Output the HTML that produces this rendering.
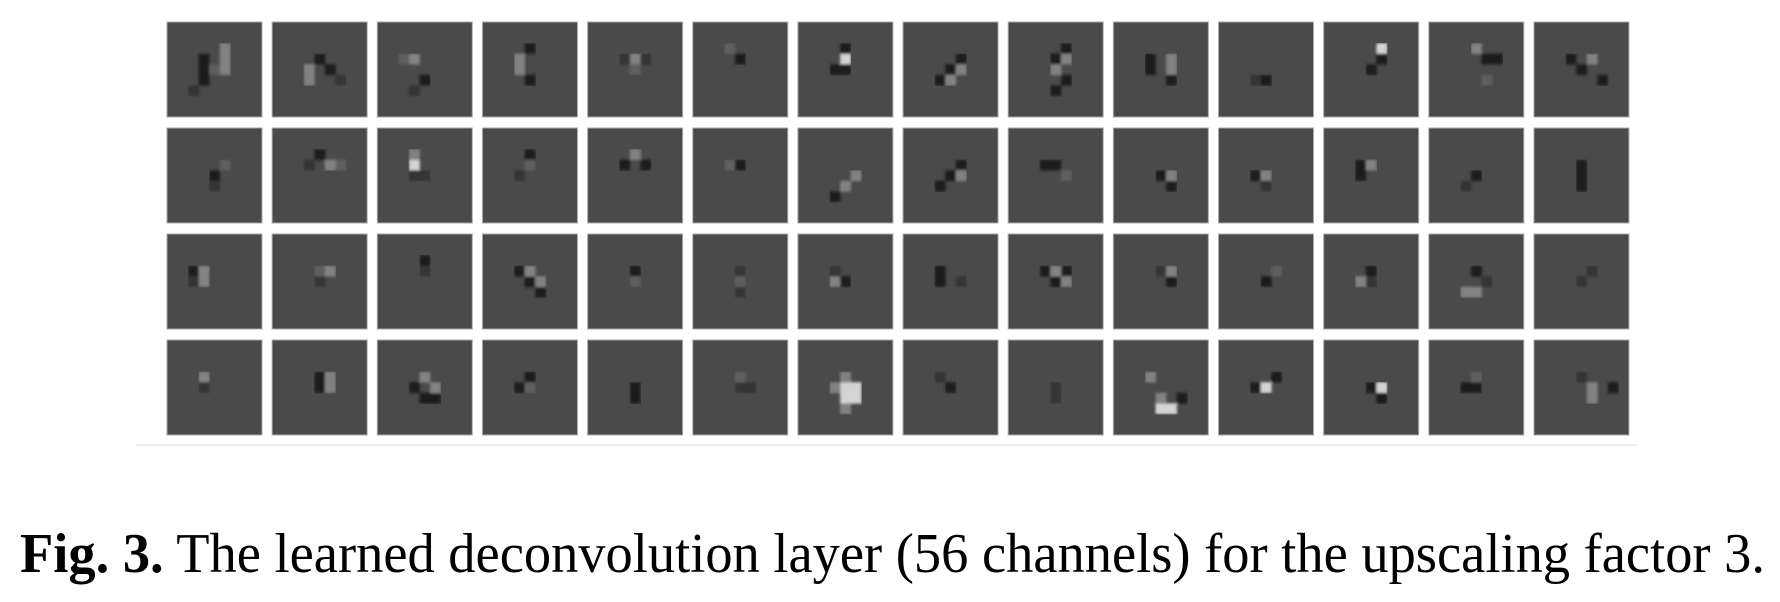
<!DOCTYPE html>
<html><head><meta charset="utf-8"><style>
html,body{margin:0;padding:0;background:#fff;width:1780px;height:602px;overflow:hidden}
</style></head><body>
<svg id="fig" width="1780" height="602" xmlns="http://www.w3.org/2000/svg">
<defs><filter id="soft" x="0" y="0" width="1" height="1"><feGaussianBlur stdDeviation="1.2"/></filter></defs>
<line x1="136" y1="445" x2="1637" y2="445" stroke="#ececec" stroke-width="2"/>
<g id="tiles"></g>
<text x="20" y="572" font-family="'Liberation Serif', serif" font-size="56" textLength="1745" lengthAdjust="spacingAndGlyphs"><tspan font-weight="bold">Fig. 3.</tspan> The learned deconvolution layer (56 channels) for the upscaling factor 3.</text>
</svg>
<script>
// feature codes per filter: letter = intensity class, then row,col in 9x9 grid
const levels = {w:'#d4d4d4', b:'#828282', m:'#5e5e5e', k:'#353535', d:'#1e1e1e'};
const filters = [
"d3,3 d4,3 d5,3 b2,5 b3,5 b4,5 m4,4 k6,2","b4,3 b5,3 d3,4 d4,5 k5,6","b3,3 m3,2 d5,4 k6,3","d2,4 b3,3 b4,3 d5,4",
"b3,4 k3,3 k3,5 m4,4","d3,4 m2,3","w3,4 d2,4 d4,3 d4,4","d3,5 d4,4 d5,3 b4,5 b5,4",
"d2,5 d3,4 d5,5 d6,4 b3,5 b4,4","d3,3 d4,3 b3,5 b4,5 d5,5","k5,3 d5,4","w2,5 d3,5 d4,4","d3,5 d3,6 b2,4 m5,5","d4,4 d3,3 b3,5 d5,6",
"d4,4 k5,4 m3,5","d2,4 k3,3 b3,5 m3,6","w3,3 b2,3 k4,3 k4,4","d2,4 k4,3 m3,4",
"b2,4 d3,3 d3,5","m3,3 d3,4","d5,4 d6,3 b4,5 b5,4","d3,5 d4,4 d5,3 b4,5",
"d3,3 d3,4 m4,5","d4,4 d5,5 b4,5","d4,3 b4,4 k5,4","d3,3 d4,3 b3,4","d4,4 k5,3","d3,4 d4,4 d5,4",
"d3,2 b3,3 b4,3 k4,2","m3,4 b3,5 k4,4","d2,4 k3,4","d3,3 d4,4 d5,5 b3,4 b4,5",
"d3,4 m4,4","k3,4 k5,4 m4,4","b4,3 k3,3 d4,4","d3,3 d4,3 k4,5",
"d3,3 d4,4 d3,5 b3,4 b4,5","k3,4 d4,5 b3,5","d4,4 m3,5","d3,4 k4,4 b4,3",
"b5,3 b5,4 d3,4 k4,5","k3,5 k4,4",
"b3,3 k4,3","d3,4 d4,4 b3,5 b4,5","d4,3 d5,4 d5,5 b3,4 b4,5","d3,4 d4,3 m4,4",
"d4,4 d5,4","k4,4 k4,5 m3,4","w4,4 w4,5 w5,4 w5,5 b3,4 b6,4 b4,3","d4,4 k3,3",
"k4,4 k5,4","w6,4 w6,5 b5,4 b3,3 d5,6","d4,3 w4,4 d3,5","d4,4 w4,5 d5,5","d4,3 d4,4 m3,4","b4,5 b5,5 d4,7 k3,4"
];
const cols = 14, x0 = 167, y0 = 22, pitch = 105.15, rowPitch = 106, size = 95, n = 9;
const g = document.getElementById('tiles');
const NS = 'http://www.w3.org/2000/svg';
filters.forEach((spec, i) => {
  const cx = x0 + (i % cols) * pitch, cy = y0 + Math.floor(i / cols) * rowPitch;
  const t = document.createElementNS(NS, 'g');
  
  
  const bg = document.createElementNS(NS, 'rect');
  bg.setAttribute('x', cx); bg.setAttribute('y', cy);
  bg.setAttribute('width', size); bg.setAttribute('height', size);
  bg.setAttribute('fill', '#4a4a4a'); bg.setAttribute('stroke', '#a8a8a8'); bg.setAttribute('stroke-width', '1');
  t.appendChild(bg);
  const fg = document.createElementNS(NS, 'g');
  fg.setAttribute('filter', 'url(#soft)');
  const cs = size / n;
  spec.split(' ').forEach(f => {
    const lv = f[0]; const [r, c] = f.slice(1).split(',').map(Number);
    const p = document.createElementNS(NS, 'rect');
    p.setAttribute('x', cx + c * cs); p.setAttribute('y', cy + r * cs);
    p.setAttribute('width', cs + 0.3); p.setAttribute('height', cs + 0.3);
    p.setAttribute('fill', levels[lv]);
    fg.appendChild(p);
  });
  t.appendChild(fg);
  g.appendChild(t);
});
</script>
</body></html>
